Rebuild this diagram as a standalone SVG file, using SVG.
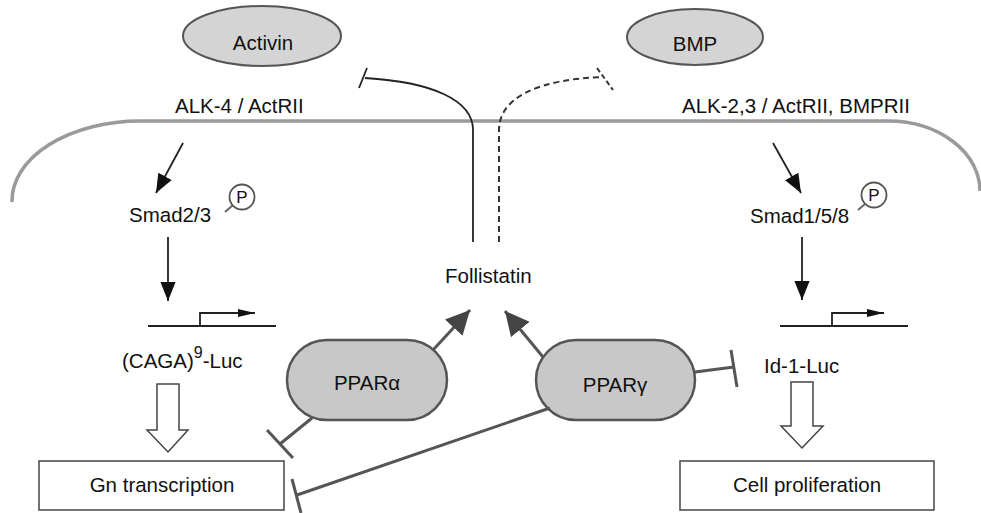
<svg xmlns="http://www.w3.org/2000/svg" width="981" height="513" viewBox="0 0 981 513">
<defs>
<style>
text{font-family:"Liberation Sans",Arial,sans-serif;font-size:20.5px;fill:#111;}
.mid{text-anchor:middle;}
.membrane{fill:none;stroke:#9a9a9a;stroke-width:3.5;}
.ln{fill:none;stroke:#222;stroke-width:1.8;}
.gl{fill:none;stroke:#555;stroke-width:3;}
.dash{fill:none;stroke:#333;stroke-width:2;stroke-dasharray:6 4;}
.oval{fill:#d4d4d4;stroke:#555;stroke-width:2;}
.pill{fill:#c8c8c8;stroke:#555;stroke-width:2.5;}
.box{fill:#fff;stroke:#444;stroke-width:1.5;}
.open{fill:#fff;stroke:#444;stroke-width:1.5;}
.pc{fill:#fff;stroke:#555;stroke-width:1.8;}
.stalk{stroke:#666;stroke-width:2;}
</style>
<marker id="ah" viewBox="0 0 20 16" refX="20" refY="8" markerWidth="19" markerHeight="16" markerUnits="userSpaceOnUse" orient="auto">
<path d="M0,0 L20,8 L0,16 z" fill="#111"/>
</marker>
<marker id="sh" viewBox="0 0 17 8" refX="17" refY="4" markerWidth="17" markerHeight="8" markerUnits="userSpaceOnUse" orient="auto">
<path d="M0,0 L17,4 L0,8 z" fill="#111"/>
</marker>
<marker id="gh" viewBox="0 0 24 24" refX="24" refY="12" markerWidth="24" markerHeight="24" markerUnits="userSpaceOnUse" orient="auto">
<path d="M0,0 L24,12 L0,24 z" fill="#444"/>
</marker>
</defs>

<g id="membrane">
<path class="membrane" d="M12,202 A128,80 0 0 1 140,121 L888,121 A92,70 0 0 1 980,191"/>
</g>

<g id="activin">
<ellipse class="oval" cx="262" cy="36" rx="79" ry="30"/>
<text class="mid" x="263" y="50">Activin</text>
</g>
<g id="bmp">
<ellipse class="oval" cx="695" cy="37" rx="68" ry="28"/>
<text class="mid" x="695" y="51">BMP</text>
</g>
<g id="alk4"><text x="175" y="113">ALK-4 / ActRII</text></g>
<g id="alk23"><text x="682" y="113">ALK-2,3 / ActRII, BMPRII</text></g>

<g id="smad23">
<text x="129" y="222">Smad2/3</text>
<line class="stalk" x1="225" y1="212" x2="233" y2="205"/>
<circle class="pc" cx="242" cy="197" r="12.5"/>
<text class="mid" x="242" y="203" style="font-size:17px">P</text>
</g>
<g id="smad158">
<text x="750" y="223">Smad1/5/8</text>
<line class="stalk" x1="858" y1="210" x2="865" y2="204"/>
<circle class="pc" cx="874" cy="195" r="12.5"/>
<text class="mid" x="874" y="201" style="font-size:17px">P</text>
</g>

<g id="follistatin"><text x="445" y="283">Follistatin</text></g>

<g id="caga">
<line class="ln" x1="148" y1="326" x2="276" y2="326"/>
<path class="ln" d="M200,326 V313 H255" marker-end="url(#sh)"/>
<text x="122" y="368">(CAGA)<tspan dy="-10" style="font-size:16px">9</tspan><tspan dy="10">-Luc</tspan></text>
</g>
<g id="id1">
<line class="ln" x1="780" y1="326" x2="908" y2="326"/>
<path class="ln" d="M832,326 V313 H884" marker-end="url(#sh)"/>
<text x="764" y="373">Id-1-Luc</text>
</g>

<g id="ppara">
<rect class="pill" x="287" y="340" width="160" height="80" rx="40" ry="40"/>
<text class="mid" x="367" y="390">PPARα</text>
</g>
<g id="pparg">
<rect class="pill" x="536" y="340" width="159" height="80" rx="40" ry="40"/>
<text class="mid" x="615" y="392">PPARγ</text>
</g>

<g id="gn">
<rect class="box" x="39" y="461" width="245" height="49"/>
<text class="mid" x="162" y="492">Gn transcription</text>
</g>
<g id="cellprolif">
<rect class="box" x="680" y="461" width="254" height="49"/>
<text class="mid" x="807" y="492">Cell proliferation</text>
</g>

<g id="connectors">
<line class="ln" x1="183" y1="143" x2="156" y2="193" marker-end="url(#ah)"/>
<line class="ln" x1="773" y1="143" x2="801" y2="193" marker-end="url(#ah)"/>
<line class="ln" x1="168" y1="237" x2="168" y2="301" marker-end="url(#ah)"/>
<line class="ln" x1="802" y1="237" x2="802" y2="300" marker-end="url(#ah)"/>
<path class="open" d="M157,384 H179 V430 H188 L168,452 L147,430 H157 Z"/>
<path class="open" d="M791,382 H813 V426 H823 L802,448 L781,426 H791 Z"/>
<path class="ln" d="M473,242 V130 C473,100 432,82 365,78"/>
<line class="ln" x1="359" y1="88" x2="367" y2="68"/>
<path class="dash" d="M499,242 V130 C499,97 540,79 603,77"/>
<line x1="597" y1="68" x2="613" y2="90" style="stroke:#333;stroke-width:2;stroke-dasharray:5 3"/>
<line class="gl" x1="433" y1="350" x2="470" y2="310" marker-end="url(#gh)"/>
<line class="gl" x1="543" y1="357" x2="505" y2="311" marker-end="url(#gh)"/>
<line class="gl" x1="312" y1="418" x2="280" y2="444"/>
<line class="gl" x1="267" y1="430" x2="293" y2="458"/>
<line class="gl" x1="550" y1="408" x2="297" y2="495"/>
<line class="gl" x1="292" y1="479" x2="301" y2="513"/>
<line class="gl" x1="695" y1="372" x2="734" y2="367"/>
<line class="gl" x1="731" y1="350" x2="737" y2="387"/>
</g>
</svg>
